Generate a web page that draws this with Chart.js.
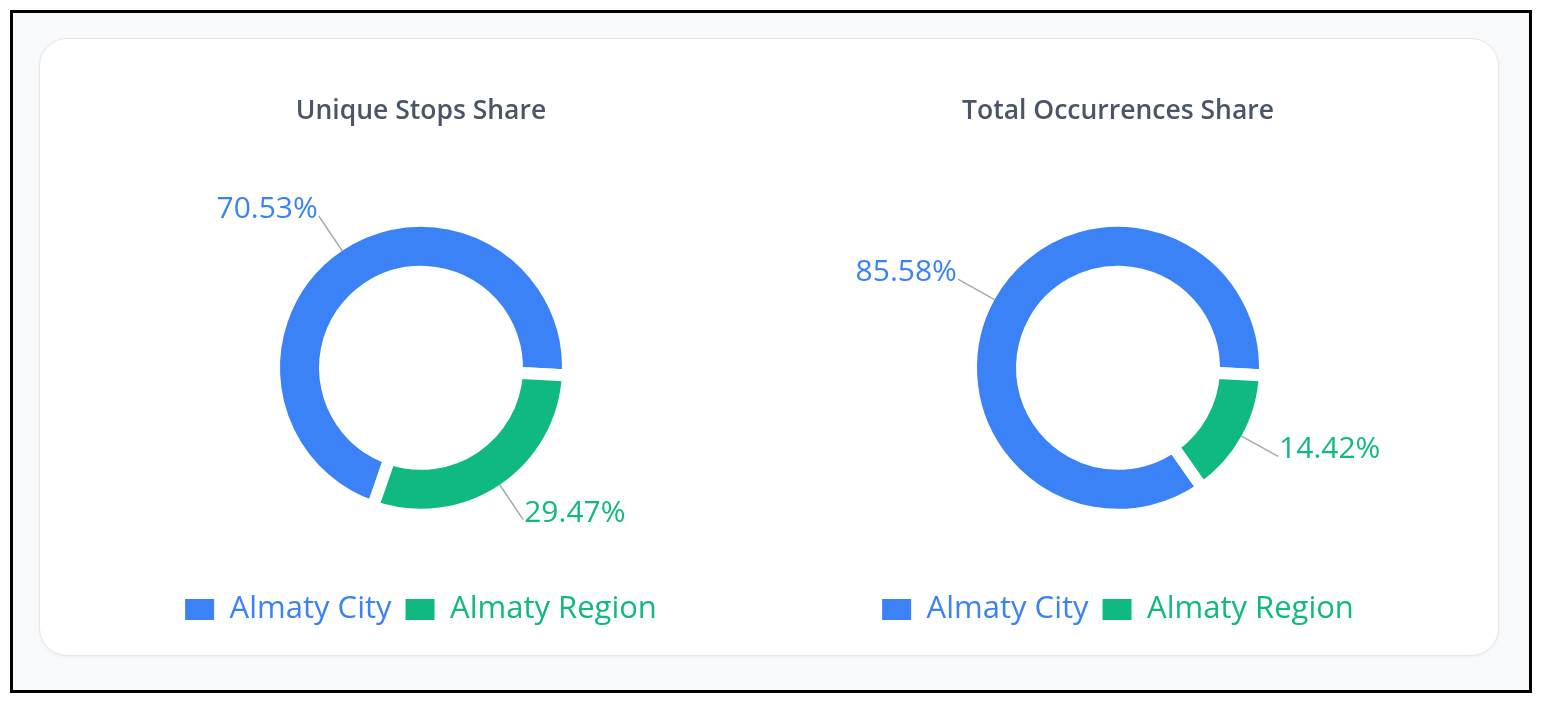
<!DOCTYPE html>
<html>
<head>
<meta charset="utf-8">
<script src="https://cdn.jsdelivr.net/npm/chart.js@4.4.1/dist/chart.umd.min.js"></script>
<style>
  html, body { margin: 0; padding: 0; background: #ffffff; width: 1541px; height: 702px; overflow: hidden; }
  .frame { position: absolute; left: 10px; top: 10px; width: 1516px; height: 677px; border: 3px solid #000; background: #f8f9fb; }
  .card { position: absolute; left: 39px; top: 38px; width: 1460px; height: 618px; box-sizing: border-box;
          background: #ffffff; border: 1px solid #e5e7eb; border-radius: 28px; box-shadow: 0 1px 3px rgba(0,0,0,0.05); }
  .chart-box { position: absolute; top: 80px; width: 698px; height: 555px; }
</style>
</head>
<body>
<div class="frame"></div>
<div class="card"></div>
<div class="chart-box" style="left:72px"><canvas id="uniqueChart"></canvas></div>
<div class="chart-box" style="left:769px"><canvas id="occurrencesChart"></canvas></div>
<script>
const categories = ['Almaty City', 'Almaty Region'];
const uniqueStopsShare = [70.53, 29.47];
const totalOccurrencesShare = [85.58, 14.42];
const seriesColors = ['#3b82f6', '#10b981'];

const FONT = "'Open Sans', 'Noto Sans', sans-serif";
const RING_BORDER = 12;

// percent labels outside the ring with a short leader line
const sliceLabels = {
    id: 'sliceLabels',
    afterDatasetsDraw(chart, args, opts) {
        const ctx = chart.ctx;
        const meta = chart.getDatasetMeta(0);
        const values = chart.data.datasets[0].data;
        ctx.save();
        meta.data.forEach((arc, i) => {
            const p = arc.getProps(['x', 'y', 'startAngle', 'endAngle', 'outerRadius'], true);
            const mid = (p.startAngle + p.endAngle) / 2;
            const cos = Math.cos(mid);
            const sin = Math.sin(mid);
            const r1 = p.outerRadius - RING_BORDER / 2;
            const r2 = r1 + opts.lineLength;
            const x2 = p.x + cos * r2;
            const y2 = p.y + sin * r2;

            ctx.strokeStyle = opts.lineColor;
            ctx.lineWidth = 1.5;
            ctx.beginPath();
            ctx.moveTo(p.x + cos * r1, p.y + sin * r1);
            ctx.lineTo(x2, y2);
            ctx.stroke();

            const onRight = cos >= 0;
            ctx.font = `${opts.fontSize}px ${FONT}`;
            ctx.fillStyle = seriesColors[i];
            ctx.textBaseline = 'alphabetic';
            ctx.textAlign = onRight ? 'left' : 'right';
            ctx.fillText(values[i].toFixed(2) + '%', x2 + (onRight ? 1 : -1), y2 + 2);
        });
        ctx.restore();
    }
};

function makeDonut(canvasId, title, values) {
    const total = values.reduce((a, b) => a + b, 0);
    const ctx = document.getElementById(canvasId).getContext('2d');
    return new Chart(ctx, {
        type: 'doughnut',
        data: {
            labels: categories,
            datasets: [{
                data: values,
                backgroundColor: seriesColors,
                borderColor: '#ffffff',
                borderWidth: RING_BORDER,
                radius: 147,
                cutout: '65.3%',
                hoverOffset: 0
            }]
        },
        options: {
            responsive: true,
            maintainAspectRatio: false,
            animation: false,
            // city slice ends just below 3 o'clock, region follows clockwise
            rotation: 93 + 360 * values[1] / total,
            layout: { padding: 0 },
            plugins: {
                title: {
                    display: true,
                    text: title,
                    color: '#4a5568',
                    font: { family: FONT, size: 26.5, weight: '600' },
                    padding: { top: 15.1, bottom: 28.7 }
                },
                legend: {
                    position: 'bottom',
                    labels: {
                        boxWidth: 29,
                        boxHeight: 21,
                        padding: 14,
                        font: { family: FONT, size: 31 },
                        generateLabels(chart) {
                            return categories.map((name, i) => ({
                                text: name,
                                fillStyle: seriesColors[i],
                                strokeStyle: seriesColors[i],
                                lineWidth: 0,
                                fontColor: seriesColors[i],
                                hidden: false,
                                index: i
                            }));
                        }
                    }
                },
                tooltip: { enabled: false },
                sliceLabels: { lineLength: 42, lineColor: '#a3a9b5', fontSize: 30 }
            }
        },
        plugins: [sliceLabels]
    });
}

makeDonut('uniqueChart', 'Unique Stops Share', uniqueStopsShare);
makeDonut('occurrencesChart', 'Total Occurrences Share', totalOccurrencesShare);
</script>
</body>
</html>
